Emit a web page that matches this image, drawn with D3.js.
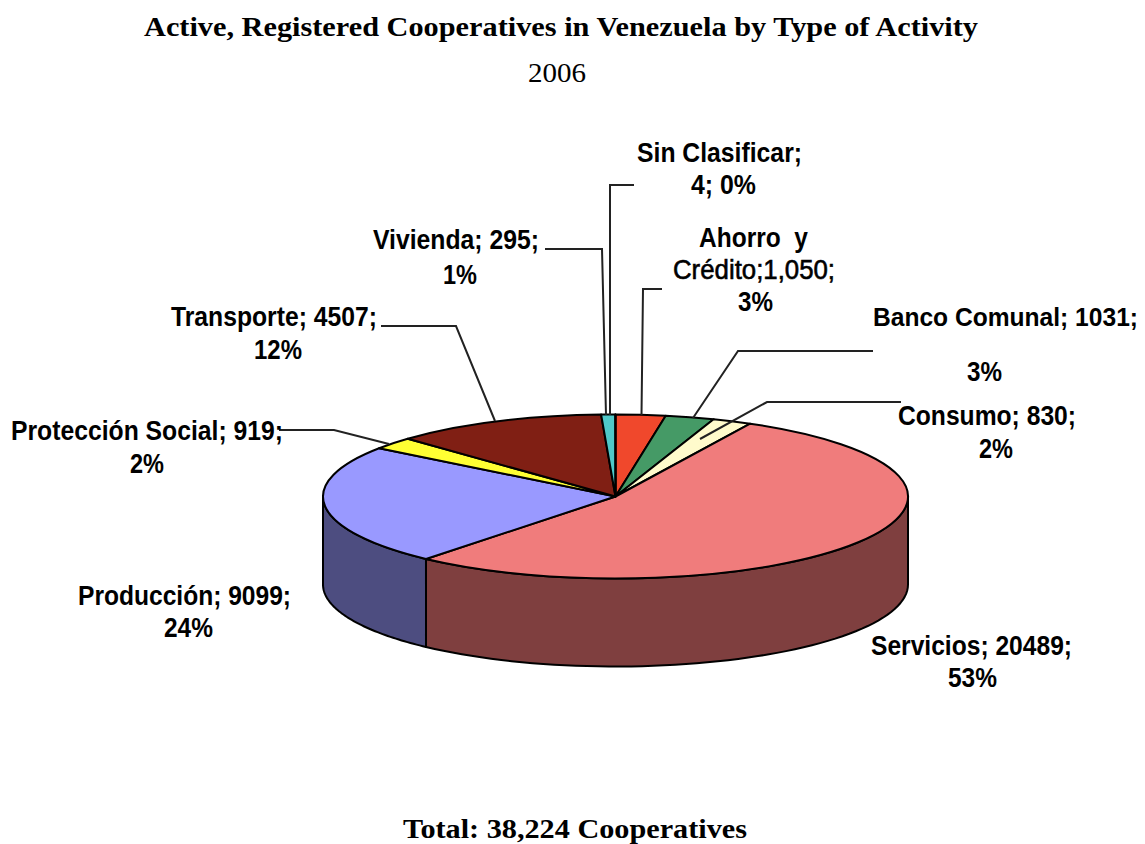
<!DOCTYPE html>
<html><head><meta charset="utf-8">
<script src="https://cdn.jsdelivr.net/npm/d3@7"></script>
<style>html,body{margin:0;background:#fff}svg{display:block}</style>
</head><body><svg id="c" width="1145" height="844"></svg>
<script>
const categories = ["Ahorro y Crédito","Banco Comunal","Consumo","Servicios","Producción","Protección Social","Transporte","Vivienda","Sin Clasificar"];
const values = [1050,1031,830,20489,9099,919,4507,295,4];
const topColors = ["#F0482C","#459A66","#FFFBCC","#F07C7C","#9999FF","#FFFF33","#801F14","#4FC8C8","#4FC8C8"];
const sideColors = ["#78241A","#234D33","#807D66","#7F3F3F","#4D4D80","#80801A","#40100A","#286464","#286464"];
const titleLines = [
 {t:"Active, Registered Cooperatives in Venezuela by Type of Activity",x:144,w:834,y:36,b:700,f:27},
 {t:"2006",x:528,w:58,y:82,b:400,f:27},
 {t:"Total: 38,224 Cooperatives",x:403,w:344,y:838,b:700,f:27}];
const labelLines = [
 {t:"Sin Clasificar;",x:637,w:165,y:162},{t:"4; 0%",x:691,w:65,y:194},
 {t:"Ahorro  y",x:699,w:109,y:247},{t:"Crédito;1,050;",x:673,w:162,y:279,b:400,s:0.6},{t:"3%",x:738,w:35,y:311},
 {t:"Banco Comunal; 1031;",x:873,w:265,y:326,f:25},{t:"3%",x:967,w:35,y:381},
 {t:"Consumo; 830;",x:898,w:178,y:425},{t:"2%",x:979,w:34,y:458},
 {t:"Vivienda; 295;",x:373,w:166,y:249},{t:"1%",x:443,w:34,y:284},
 {t:"Transporte; 4507;",x:171,w:206,y:326},{t:"12%",x:254,w:48,y:359},
 {t:"Protección Social; 919;",x:11,w:272,y:440},{t:"2%",x:130,w:34,y:473},
 {t:"Producción; 9099;",x:78,w:213,y:605},{t:"24%",x:164,w:49,y:637},
 {t:"Servicios; 20489;",x:871,w:201,y:655},{t:"53%",x:948,w:49,y:687}];
const leaderLines = [
 [[634,185],[610,185],[610,415]],
 [[545,249],[602,249],[606,415]],
 [[662,289],[643,289],[641.5,415]],
 [[873,351],[738,351],[693,418]],
 [[901,402],[767,402],[700,439]],
 [[381,326],[456,326],[495,421]],
 [[279,430],[334,430],[389,444]]];

const svg = d3.select("#c");
const cx=615.5, cy=496.5, rx=292.5, ry=82, depth=88;
const slices = d3.pie().sort(null).startAngle(0).endAngle(2*Math.PI)(values);
const px=a=>cx+rx*Math.sin(a), py=a=>cy-ry*Math.cos(a);

// side walls: front half only (angles 90°..270°)
const lo=Math.PI/2, hi=3*Math.PI/2;
const line=d3.line();
slices.forEach((s,i)=>{
  const a0=Math.max(s.startAngle,lo), a1=Math.min(s.endAngle,hi);
  if(a1<=a0) return;
  const as=d3.range(0,61).map(k=>a0+(a1-a0)*k/60);
  const pts=as.map(a=>[px(a),py(a)]).concat(as.slice().reverse().map(a=>[px(a),py(a)+depth]));
  svg.append("path").attr("d",line(pts)+"Z").attr("fill",sideColors[i])
     .attr("stroke","#000").attr("stroke-width",2).attr("stroke-linejoin","round");
});

// top faces
const arc=d3.arc().innerRadius(0).outerRadius(rx);
const topFace=svg.append("g").attr("transform",`translate(${cx},${cy}) scale(1,${ry/rx})`);
topFace.selectAll("path").data(slices).join("path")
  .attr("d",arc).attr("fill",(d,i)=>topColors[i])
  .attr("stroke","#000").attr("stroke-width",2).attr("stroke-linejoin","round")
  .attr("vector-effect","non-scaling-stroke");

// leader lines
svg.append("g").selectAll("path").data(leaderLines).join("path")
  .attr("d",d=>line(d)).attr("fill","none").attr("stroke","#222").attr("stroke-width",2);

function put(sel,fam){
  sel.join("text").text(d=>d.t).attr("x",d=>d.x).attr("y",d=>d.y)
    .attr("font-family",fam).attr("font-size",d=>d.f||27)
    .attr("font-weight",d=>d.b||700).attr("fill","#000")
    .attr("stroke",d=>d.s?"#000":"none").attr("stroke-width",d=>d.s||0)
    .attr("textLength",d=>d.w).attr("lengthAdjust","spacingAndGlyphs")
    .style("white-space","pre");
}
put(svg.append("g").selectAll("text").data(labelLines),"'Liberation Sans',Arial,sans-serif");
put(svg.append("g").selectAll("text").data(titleLines),"'Liberation Serif',serif");
</script></body></html>
